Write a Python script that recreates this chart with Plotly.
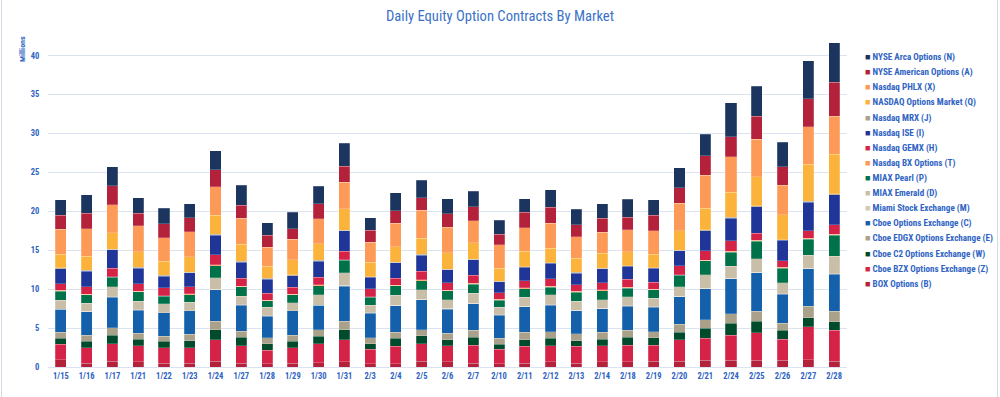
import plotly.graph_objects as go

dates = ["1/15","1/16","1/17","1/21","1/22","1/23","1/24","1/27","1/28","1/29","1/30","1/31",
         "2/3","2/4","2/5","2/6","2/7","2/10","2/11","2/12","2/13","2/14","2/18","2/19",
         "2/20","2/21","2/24","2/25","2/26","2/27","2/28"]

# values in millions, stacked bottom (BOX) to top (NYSE Arca)
box_b   = [0.95,0.5,0.75,0.65,0.5,0.5,0.75,0.5,0.45,0.5,0.55,0.65,0.45,0.45,0.75,0.65,0.5,0.45,0.5,0.65,0.5,0.65,0.65,0.75,0.75,0.85,0.85,0.85,0.85,0.95,0.75]
bzx_z   = [1.95,2.0,2.25,2.05,2.0,2.0,2.75,2.2,1.7,2.0,2.45,2.85,1.85,2.2,2.25,2.05,2.3,1.8,2.15,2.05,2.15,2.05,2.15,2.05,2.75,2.85,3.25,3.55,2.7,4.2,3.95]
c2_w    = [0.8,0.8,1.05,0.85,0.8,0.9,1.3,1.1,0.85,0.8,0.95,1.3,0.7,1.05,1.0,0.8,1.0,0.7,0.85,1.0,0.75,0.85,1.0,0.95,0.95,1.3,1.55,1.45,1.15,1.2,1.1]
edgx_e  = [0.75,0.75,1.0,0.8,0.65,0.8,1.1,0.8,0.75,0.75,0.85,1.05,0.75,0.75,0.8,0.85,0.9,0.75,0.95,0.85,0.85,0.9,0.9,0.75,1.05,1.1,1.2,1.3,0.95,1.45,1.35]
cboe_c  = [2.95,3.05,3.9,2.95,3.0,3.0,4.0,3.3,2.8,3.15,3.1,4.55,3.15,3.4,3.85,3.1,3.45,2.95,3.3,3.4,3.0,3.05,3.1,3.2,3.5,3.95,4.5,4.95,3.7,4.8,4.75]
miami_m = [0.05,0.05,0.05,0.05,0.05,0.05,0.07,0.08,0.05,0.05,0.06,0.08,0.05,0.06,0.06,0.07,0.06,0.05,0.05,0.06,0.05,0.05,0.07,0.06,0.06,0.07,0.07,0.1,0.05,0.07,0.1]
emer_d  = [1.15,1.05,1.3,1.1,1.1,1.05,1.5,1.1,1.05,1.0,1.3,1.6,1.0,1.3,1.2,1.1,1.25,1.0,1.15,1.25,1.15,1.1,1.15,1.1,1.25,1.7,1.5,1.7,1.45,1.7,2.25]
pearl_p = [1.15,1.05,1.2,1.2,1.0,1.0,1.55,1.2,0.85,1.0,1.2,1.6,1.0,1.2,1.2,1.15,1.2,0.9,1.1,1.0,1.15,1.15,1.1,1.05,1.45,1.8,1.85,2.25,1.85,2.05,2.7]
bx_t    = [0.1,0.1,0.1,0.1,0.07,0.1,0.1,0.1,0.1,0.1,0.1,0.1,0.1,0.1,0.1,0.1,0.1,0.08,0.1,0.1,0.1,0.1,0.1,0.1,0.1,0.1,0.1,0.1,0.1,0.1,0.1]
gemx_h  = [0.85,0.95,1.1,0.95,1.0,0.9,1.3,1.0,0.85,0.9,1.0,1.1,1.0,0.9,1.1,0.95,1.05,0.85,0.95,0.95,0.85,0.95,1.05,0.9,1.15,1.2,1.35,0.95,0.85,0.95,1.2]
ise_i   = [1.95,2.0,2.35,2.0,1.5,1.8,2.5,2.1,1.85,1.5,2.05,2.6,1.45,1.95,2.05,1.65,1.95,1.4,1.7,2.0,1.5,1.75,1.65,1.75,1.9,2.6,2.9,3.4,2.6,3.7,3.85]
mrx_j   = [0.1,0.1,0.1,0.1,0.1,0.1,0.1,0.1,0.1,0.1,0.1,0.1,0.1,0.1,0.1,0.1,0.1,0.1,0.1,0.1,0.1,0.1,0.1,0.1,0.1,0.1,0.1,0.1,0.1,0.1,0.15]
nom_q   = [1.75,1.85,2.1,2.0,1.8,1.95,2.5,2.2,1.55,1.9,2.1,2.75,1.85,2.0,2.1,2.1,2.1,1.65,1.95,1.85,1.8,1.9,1.8,1.7,2.5,2.8,3.25,3.75,3.2,4.75,5.1]
phlx_x  = [3.2,3.5,3.6,3.35,3.0,3.2,3.6,3.3,2.45,2.65,3.2,3.4,2.55,3.0,3.55,3.3,2.85,3.0,3.05,3.2,2.8,2.7,2.8,3.05,3.5,4.2,4.55,4.8,3.8,4.85,4.85]
amer_a  = [1.8,2.0,2.45,1.6,1.8,1.8,2.2,1.7,1.5,1.35,1.95,2.05,1.55,1.6,1.65,1.7,1.8,1.35,1.95,2.05,1.55,1.8,1.6,1.95,2.0,2.5,2.55,2.95,2.4,3.6,4.35]
arca_n  = [2.0,2.35,2.45,2.0,2.0,1.85,2.45,2.55,1.65,2.15,2.25,2.95,1.65,2.3,2.2,1.95,1.95,1.8,1.75,2.25,1.95,1.85,2.3,2.05,2.6,2.8,4.35,3.85,3.1,4.85,5.1]

series_names = ["BOX Options (B)", "Cboe BZX Options Exchange (Z)", "Cboe C2 Options Exchange (W)",
                "Cboe EDGX Options Exchange (E)", "Cboe Options Exchange (C)", "Miami Stock Exchange (M)",
                "MIAX Emerald (D)", "MIAX Pearl (P)", "Nasdaq BX Options (T)", "Nasdaq GEMX (H)",
                "Nasdaq ISE (I)", "Nasdaq MRX (J)", "NASDAQ Options Market (Q)", "Nasdaq PHLX (X)",
                "NYSE American Options (A)", "NYSE Arca Options (N)"]
series_values = [box_b, bzx_z, c2_w, edgx_e, cboe_c, miami_m, emer_d, pearl_p, bx_t, gemx_h,
                 ise_i, mrx_j, nom_q, phlx_x, amer_a, arca_n]
series_colors = ["#b4213b", "#d42346", "#004b2b", "#a9a18a", "#1460ab", "#d3c9b6",
                 "#c9bea8", "#00724a", "#fd9a57", "#d42346", "#1f3597", "#a9a18a",
                 "#fbb33b", "#fd9a57", "#b4213b", "#1c355f"]

BLUE = "#2f64c3"
FONT = "Roboto Condensed, Liberation Sans Narrow, Roboto, sans-serif"

fig = go.Figure()
for name, vals, col in zip(series_names, series_values, series_colors):
    assert len(vals) == len(dates)
    fig.add_trace(go.Bar(x=dates, y=vals, name=name, marker_color=col,
                         marker_line=dict(width=0.6, color="rgba(255,255,255,0.35)"),
                         showlegend=False))

# plot area geometry (px) for placing the custom legend
W, H = 1000, 397
ml, mr, mt, mb = 48, 153, 40, 30
pw, ph = W - ml - mr, H - mt - mb

def px_x(x):
    return (x - ml) / pw

def px_y(y):
    return 1 - (y - mt) / ph

annotations = []
for i, (name, col) in enumerate(zip(reversed(series_names), reversed(series_colors))):
    y = 57.7 + i * 15.1
    annotations.append(dict(
        x=px_x(863), y=px_y(y), xref="paper", yref="paper", xanchor="left", yanchor="middle",
        showarrow=False,
        text=f'<span style="color:{col}">■</span> <b>{name}</b>',
        font=dict(family=FONT, size=9.1, color=BLUE)))

annotations.append(dict(x=px_x(22), y=px_y(49), xref="paper", yref="paper", textangle=-90,
                        showarrow=False, xanchor="center", yanchor="middle",
                        text="<b>Millions</b>", font=dict(family=FONT, size=8, color=BLUE)))

frame_lines = [
    dict(type="line", xref="paper", yref="paper", x0=px_x(1.5), x1=px_x(1.5), y0=px_y(0), y1=px_y(H),
         line=dict(color="#d3dae5", width=1)),
    dict(type="line", xref="paper", yref="paper", x0=px_x(997.5), x1=px_x(997.5), y0=px_y(0), y1=px_y(H),
         line=dict(color="#d3dae5", width=1)),
]

fig.update_layout(
    width=W, height=H,
    barmode="stack", bargap=0.57,
    plot_bgcolor="white", paper_bgcolor="white",
    margin=dict(l=ml, r=mr, t=mt, b=mb, pad=0, autoexpand=False),
    title=dict(text="Daily Equity Option Contracts By Market", x=0.5, xref="container",
               y=1 - 16 / H, yref="container", yanchor="middle", xanchor="center",
               font=dict(family=FONT, size=14.6, color="#3b72c8")),
    xaxis=dict(type="category", showgrid=False, zeroline=False, showline=False,
               ticks="outside", ticklen=1, tickcolor="rgba(0,0,0,0)",
               automargin=False,
               tickfont=dict(family=FONT, size=8.5, color=BLUE, weight="bold")),
    yaxis=dict(range=[0, 42], tickvals=[0, 5, 10, 15, 20, 25, 30, 35, 40],
               automargin=False,
               showgrid=True, gridcolor="#dbe3f1", gridwidth=1.3,
               zeroline=True, zerolinecolor="#dbe3f1", zerolinewidth=1.3,
               showline=False, ticks="outside", ticklen=6, tickcolor="rgba(0,0,0,0)",
               tickfont=dict(family=FONT, size=8.5, color=BLUE, weight="bold")),
    annotations=annotations,
    shapes=frame_lines,
    showlegend=False,
)

fig.write_html("out.html", config={"displayModeBar": False},
               post_script="document.body.style.margin='0';")
